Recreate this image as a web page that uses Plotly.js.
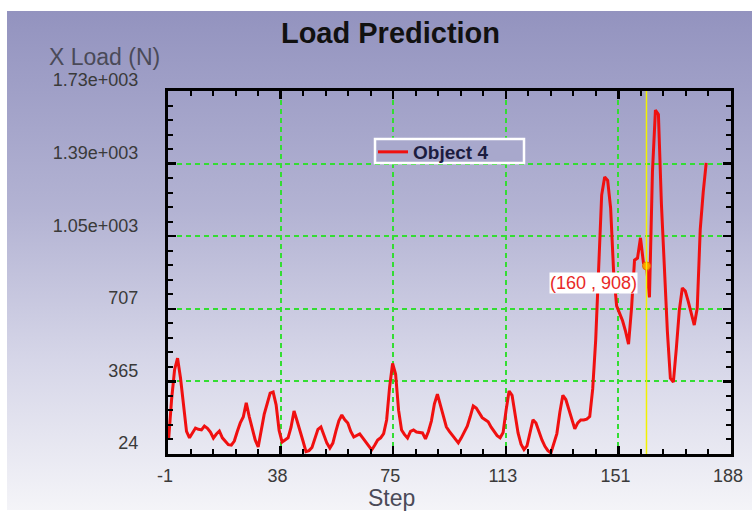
<!DOCTYPE html>
<html>
<head>
<meta charset="utf-8">
<script src="https://cdn.plot.ly/plotly-3.0.1.min.js"></script>
<style>
  html, body { margin: 0; padding: 0; background: #ffffff; }
  #wrap { position: relative; width: 752px; height: 513px; overflow: hidden; }
  #bg { position: absolute; left: 7px; top: 11px; width: 745px; height: 499px;
        background: linear-gradient(to bottom, #9393bf 0%, #b3b3d3 40%, #d6d6e8 70%, #f4f4f8 100%); }
  #chart { position: absolute; left: 0; top: 0; width: 752px; height: 513px; }
</style>
</head>
<body>
<div id="wrap"><div id="bg"></div><div id="chart"></div></div>
<script>
// ---- data ----
const steps = [];
for (let i = 0; i <= 180; i++) steps.push(i);
const loadN = [
  90, 280, 420, 474, 380, 254, 130, 100, 125, 146,
  140, 137, 155, 145, 127, 99, 118, 132, 100, 85,
  68, 66, 85, 130, 170, 198, 264, 200, 140, 90,
  57, 140, 210, 260, 310, 315, 255, 135, 80, 90,
  100, 150, 226, 180, 137, 85, 35, 40, 55, 100,
  140, 151, 110, 75, 52, 75, 130, 180, 207, 185,
  170, 130, 104, 110, 118, 100, 80, 60, 43, 65,
  90, 100, 120, 184, 339, 450, 400, 230, 137, 115,
  99, 130, 137, 127, 125, 123, 95, 130, 180, 260,
  305, 250, 200, 151, 130, 113, 95, 76, 100, 130,
  155, 200, 250, 240, 220, 195, 185, 175, 150, 127,
  110, 100, 125, 230, 320, 300, 210, 123, 70, 45,
  62, 120, 185, 170, 125, 90, 60, 40, 29, 70,
  120, 220, 300, 280, 230, 185, 142, 170, 184, 184,
  188, 200, 330, 560, 950, 1241, 1326, 1310, 1180, 880,
  720, 687, 650, 600, 540, 710, 935, 945, 1040, 920,
  908, 760, 1350, 1640, 1620, 1200, 900, 600, 380, 362,
  520, 700, 804, 790, 740, 680, 630, 710, 1080, 1255,
  1392
];
const seriesName = "Object 4";
const cursorStep = [160];
const cursorLoad = [908];
const xTickVals = [-0.2, 37.5, 75.2, 112.9, 150.6, 188.3];
const xTickText = ["-1", "38", "75", "113", "151", "188"];
const yTickVals = [24, 365.2, 706.4, 1047.6, 1388.8, 1730];
const yTickText = ["24", "365", "707", "1.05e+003", "1.39e+003", "1.73e+003"];

// minor tick positions: 4 between each pair of major ticks
function minorBetween(vals) {
  const out = [];
  for (let i = 0; i < vals.length - 1; i++) {
    const a = vals[i], b = vals[i + 1];
    for (let k = 1; k < 5; k++) out.push(a + (b - a) * k / 5);
  }
  return out;
}

const FONT = "Liberation Sans, Arial, sans-serif";
const GRID = "#33dd33";

const traces = [
  {
    x: steps, y: loadN, type: "scatter", mode: "lines", name: seriesName,
    line: { color: "#f01010", width: 3 }, showlegend: true
  },
  {
    x: cursorStep, y: cursorLoad, type: "scatter", mode: "markers",
    marker: { color: "#ff9a00", size: 8, line: { color: "#e07000", width: 1 } },
    showlegend: false, hoverinfo: "skip"
  }
];

const axisCommon = {
  showline: true, linecolor: "#000000", linewidth: 3, mirror: "allticks",
  ticks: "inside", ticklen: 8, tickwidth: 2.5, tickcolor: "#000000",
  showgrid: true, gridcolor: GRID, gridwidth: 2, griddash: "5px,4px",
  zeroline: false, tickmode: "array",
  tickfont: { family: FONT, size: 18, color: "#3a3a3a" }
};
const minorCommon = { tickmode: "array", ticklen: 5, tickwidth: 2, tickcolor: "#000000",
  ticks: "inside", showgrid: false };

const px2x = p => (p - 168) / 563;
const py2y = p => (454 - p) / 363;

const layout = {
  width: 752, height: 513,
  margin: { l: 168, r: 21, t: 91, b: 59, pad: 0 },
  paper_bgcolor: "rgba(0,0,0,0)", plot_bgcolor: "rgba(0,0,0,0)",
  title: {
    text: "<b>Load Prediction</b>",
    font: { family: FONT, size: 29, color: "#111111" },
    xref: "container", x: 390.5 / 752, xanchor: "center",
    yref: "container", y: 1 - 33 / 513, yanchor: "middle"
  },
  xaxis: Object.assign({}, axisCommon, {
    range: [-0.2, 188.3], tickvals: xTickVals, ticktext: xTickText,
    ticklabelstandoff: 3, ticklabelshift: -3,
    minor: Object.assign({ tickvals: minorBetween(xTickVals) }, minorCommon)
  }),
  yaxis: Object.assign({}, axisCommon, {
    range: [24, 1730], tickvals: yTickVals, ticktext: yTickText,
    ticklabelstandoff: 23, ticklabelshift: -11,
    minor: Object.assign({ tickvals: minorBetween(yTickVals) }, minorCommon)
  }),
  legend: {
    x: px2x(373), xanchor: "left",
    y: py2y(133), yanchor: "top",
    orientation: "v",
    bgcolor: "rgba(0,0,0,0)", borderwidth: 0,
    font: { family: FONT, size: 19, color: "#1c1c40", weight: "bold" }
  },
  shapes: [
    { type: "rect", xref: "paper", yref: "paper", x0: px2x(375), x1: px2x(524), y0: py2y(163), y1: py2y(139),
      line: { color: "#ffffff", width: 2.5 }, fillcolor: "#a8a8cc", layer: "above" },
    { type: "line", xref: "x", yref: "paper", x0: cursorStep[0], x1: cursorStep[0], y0: 0, y1: 1,
      line: { color: "#f2f200", width: 1.5 }, layer: "above" }
  ],
  annotations: [
    { text: "X Load (N)", xref: "paper", yref: "paper", x: px2x(47), y: py2y(57),
      xanchor: "left", yanchor: "middle", showarrow: false,
      font: { family: FONT, size: 23, color: "#4a4a58" } },
    { text: "Step", xref: "paper", yref: "paper", x: px2x(391), y: py2y(498),
      xanchor: "center", yanchor: "middle", showarrow: false,
      font: { family: FONT, size: 23, color: "#4a4a58" } },
    { text: "(" + cursorStep[0] + " , " + cursorLoad[0] + ")", xref: "x", yref: "y",
      x: cursorStep[0], y: cursorLoad[0], xanchor: "right", yanchor: "top",
      xshift: -8, yshift: -6, showarrow: false, bgcolor: "#ffffff", borderpad: 0,
      font: { family: FONT, size: 18, color: "#e82828" } }
  ]
};

Plotly.newPlot("chart", traces, layout, { displayModeBar: false, staticPlot: true });
</script>
</body>
</html>
